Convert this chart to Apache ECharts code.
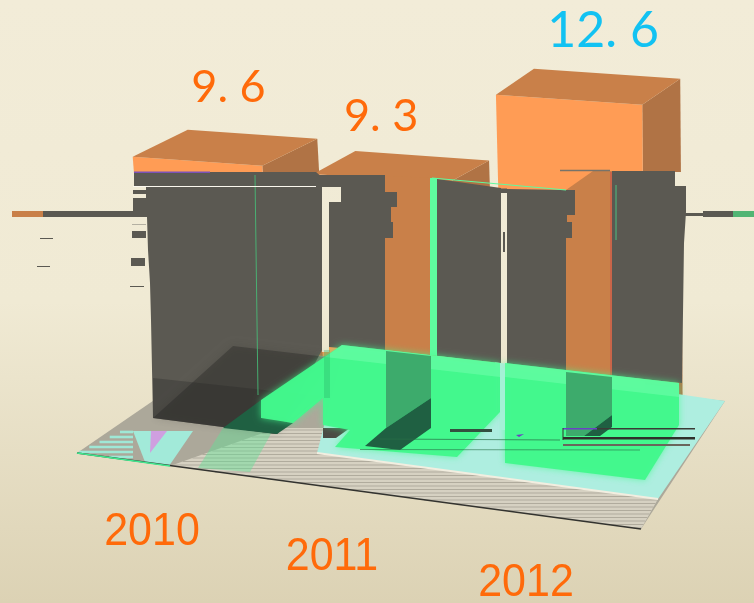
<!DOCTYPE html>
<html><head><meta charset="utf-8">
<style>html,body{margin:0;padding:0;background:#f2ecd8}#c{width:754px;height:603px}</style>
<script src="https://cdn.jsdelivr.net/npm/echarts@6/dist/echarts.min.js"></script>
</head><body><div id="c"></div>
<script>
const categories = ['2010','2011','2012'];
const values = [9.6, 9.3, 12.6];

// layout of the oblique view (not data)
const depthScale=[0.951,1,1.016], xNudge=[0,-4,0], halfW=[62,64,70];
const backOff=[[55,-27],[42,-23],[38,-26]];
const labelNudge=[[31,-74],[1,-62],[34,-69]];
const catPos=[[152,532],[332,557],[526,583]];
const GRAY='#5b5952',FRONT='#ff9c55',TOP='#c98049',SIDE='#b07345',CREAM={type:'linear',x:0,y:0,x2:0,y2:603,global:true,colorStops:[{offset:0,color:'#f2ecd8'},{offset:.5,color:'#f0ead4'},{offset:1,color:'#dcd2b4'}]};

function corners(api){
  const i=api.value(0), v=api.value(1);
  const b=api.coord([i,0]), t=api.coord([i,v]);
  const cx=b[0]+xNudge[i], by=b[1]+0.125*(b[0]-215);
  const h=(b[1]-t[1])*depthScale[i];
  const lean=-(700-cx)*0.00376*v;
  const w=halfW[i], tw=w*1.045;
  const tcx=cx+lean, tcy=by-h;
  const FL=[tcx-tw,tcy-0.07*tw],FR=[tcx+tw,tcy+0.07*tw];
  const BL=[cx-w,by-0.125*w],BR=[cx+w,by+0.125*w];
  return {i,v,cx,by,tcx,tcy,FL,FR,BL,BR,off:backOff[i]};
}
const add=(p,o)=>[p[0]+o[0],p[1]+o[1]];
function renderBar(params,api){
  const c=corners(api);
  const poly=(points,fill)=>({type:'polygon',shape:{points},style:{fill}});
  return {type:'group',children:[
    poly([c.FR,add(c.FR,c.off),add(c.BR,c.off),c.BR],SIDE),
    poly([c.FL,c.FR,c.BR,c.BL],FRONT),
    poly([c.FL,add(c.FL,c.off),add(c.FR,c.off),c.FR],TOP)
  ]};
}
function renderValue(params,api){
  const c=corners(api), n=labelNudge[c.i];
  const isMax=c.v===Math.max(...values);
  return {type:'text',style:{x:c.tcx+n[0],y:c.tcy+n[1],text:String(c.v).replace('.','. '),
    align:'center',verticalAlign:'middle',fill:isMax?'#12c2f2':'#ff6a0a',
    font:(isMax?'50px':'45px')+' Lato'}};
}
function renderCat(params,api){
  const i=api.value(0);
  return {type:'text',x:catPos[i][0],y:catPos[i][1],scaleY:1.09,style:{x:0,y:0,text:categories[i],align:'center',verticalAlign:'middle',
    fill:'#ff6a0a',font:'43px "Liberation Sans"'}};
}

// --- scene pieces (floor, glitches) ---
const els=[];
function P(pts,fill,z,extra){els.push(Object.assign({type:'polygon',z,silent:true,shape:{points:pts},style:Object.assign({fill},extra||{})}));}
function R(x0,y0,x1,y1,fill,z){P([[x0,y0],[x1,y0],[x1,y1],[x0,y1]],fill,z);}
function L(a,b,stroke,w,z){els.push({type:'line',z,silent:true,shape:{x1:a[0],y1:a[1],x2:b[0],y2:b[1]},style:{stroke,lineWidth:w}});}
function hatch(poly,y0,y1,step,color,z,w){
  for(let y=y0;y<=y1;y+=step){
    const xs=[];
    poly.forEach((p,k)=>{const q=poly[(k+1)%poly.length];
      if((p[1]<=y&&q[1]>y)||(q[1]<=y&&p[1]>y)) xs.push(p[0]+(y-p[1])*(q[0]-p[0])/(q[1]-p[1]));});
    if(xs.length>=2) L([Math.min(...xs),y],[Math.max(...xs),y],color,w||1.2,z);
  }
}
const F=2.5;
R(0,0,754,603,CREAM,0);
// floor (sits over the feet of the boxes)
P([[77,453],[233,346],[725,401],[641,529]],'#aca89a',F);
const strip=[[170,466],[641,529],[658,499],[317,453],[350,428],[277,428]];
P(strip,'#d6d1c2',F);
hatch(strip,430,528,3.5,'#b0ab9d',F,1.1);
// left mint patch
const mintL=[[77,453],[122,431],[133,431],[133,460]];
hatch(mintL,432,458,5,'#9fe8d6',F,2.6);
P([[133,431],[193,431],[169,466],[145,462]],'#a2ead9',F);
P([[151,431],[167,431],[150,453]],'#cf9fe0',F);
P([[223,428],[273,430],[250,472],[198,468]],'rgba(100,225,150,.45)',F);
L([77,453],[641,529],'#33332f',1.6,F);
L([77,453],[170,466],'#3fe98f',1.4,F);
// mint floor
P([[317,453],[658,499],[725,401],[345,345]],'#aeeee0',F);
L([317,453],[658,499],'#f2eee0',2,F);

// glitch layer above the bars (z 3)
R(100,173,155,425,CREAM,F-.4);
R(322,187,329,352,CREAM,3); R(329,187,341,202,CREAM,3);
R(501,193,507,364,CREAM,3);
R(675,172,690,186,CREAM,3); R(684,186,700,395,CREAM,3);
// darker orange columns
P([[385,176],[437,178],[437,356],[385,350]],TOP,3);
P([[566,190],[593,171],[612,171],[612,376],[566,371]],TOP,3);
// gray masses
P([[134,172],[316,172],[323,178],[323,186],[134,186]],GRAY,3);
P([[146,187],[322,187],[322,350],[277,434],[153,418],[151,320],[150,283],[148,250],[147,217],[146,217]],GRAY,3);
P([[233,346],[335,358],[277,434],[153,418]],'rgba(38,38,35,.38)',3,{shadowBlur:8,shadowColor:'rgba(50,50,45,.45)'});
P([[153,378],[320,396],[277,434],[153,418]],'rgba(38,38,35,.3)',3);
R(133,190,146,194,GRAY,3); R(133,198,146,217,GRAY,3); R(43,211,146,217,GRAY,3);
R(12,211,43,217,TOP,3);
R(132,224,146,225,'#b4b0a2',3); R(132,231,146,238,GRAY,3); R(131,258,145,266,GRAY,3); R(130,286,144,287,GRAY,3);
R(40,238,53,239,GRAY,3); R(37,266,50,267,GRAY,3);
R(134,171.5,210,173,'#7a52b8',3);
L([255,175],[258,395],'rgba(70,190,120,.85)',1,3);
R(133,186,340,187,'#fbf8ee',3);
// second gray mass
P([[316,175],[382,175],[385,175],[385,192],[397,192],[397,207],[391,207],[391,222],[393,222],[393,238],[385,238],[385,352],[329,347],[329,202],[341,202],[341,187],[316,187]],GRAY,3);
// third + fourth
P([[430,178],[437,178],[437,356],[430,355]],'#5ffb9f',3);
P([[437,179],[501,188],[501,363],[437,356]],GRAY,3);
R(501,188.5,507,193,GRAY,3);
P([[507,189],[566,190],[575,190],[575,215],[567,215],[567,222],[572,222],[572,238],[566,238],[566,371],[507,364]],GRAY,3);
R(503,232,505,252,GRAY,3);
L([432,178],[566,190],'#5ffb9f',1,3);
// fifth
P([[612,171],[675,171],[675,186],[686,186],[686,212],[684,243],[682,383],[612,376]],GRAY,3);
R(685,213,703,216,GRAY,3); R(703,211,733,217,GRAY,3); R(733,211,754,217,'#52b574',3);
L([611,172],[611,376],'#c94a4a',1,3);
L([616,185],[616,240],'#4fbf80',1,3);
L([560,170.5],[610,170.5],'#77736a',1.4,3);

// green layers
const G='rgba(66,248,140,.97)', glow={shadowBlur:7,shadowColor:'rgba(66,248,140,.7)'};
P([[223,428],[261,400],[261,418],[293,423],[277,434]],'#1f6042',4);
P([[323,428],[350,428],[336,438],[323,438]],'#4a4a44',4);
P([[342,345],[500,363],[500,412],[457,457],[335,447],[350,430],[323,425],[323,398],[293,423],[261,418],[261,400]],G,4,glow);
P([[505,363],[679,383],[679,425],[645,480],[505,463]],G,4,glow);
P([[342,345],[500,363],[500,377],[325,357]],'rgba(110,253,170,.6)',4);
P([[505,363],[679,383],[679,397],[505,377]],'rgba(110,253,170,.6)',4);
P([[500,363],[505,363.5],[505,430],[500,430]],'rgba(165,240,215,.95)',4);
R(324,350,330,398,'rgba(40,170,100,.3)',4);
// columns seen through the green
P([[386,351],[431,356],[431,398],[386,428]],'#3dab6c',4);
P([[431,398],[431,428],[400,450],[365,446],[386,428]],'#1f6042',4);
P([[566,372],[612,377],[612,415],[584,436],[566,436]],'#3dab6c',4);
P([[612,415],[612,427],[600,436],[584,436]],'#1f6042',4);
// streaks
R(563,428,597,429.5,'#6b42c4',4); R(597,428,695,429.5,'#3b3b36',4); R(563,437,695,439.5,'#2f2f2b',4); R(563,444,690,446,'#6a665c',4);
L([563,428],[563,440],'#33332f',1,4);
R(450,429,492,432,'#33503f',4);
L([380,439],[560,440],'rgba(40,110,70,.7)',1,4);
L([360,449.5],[640,450],'rgba(40,110,70,.6)',1,4);
P([[516,435],[524,434],[519,437]],'#6b42c4',4);

const seriesData=categories.map((c,i)=>[i,values[i]]);
const chart=echarts.init(document.getElementById('c'),null,{renderer:'canvas'});
chart.setOption({
  animation:false,
  grid:{left:125,width:540,top:0,height:426},
  xAxis:{type:'category',data:categories,show:false},
  yAxis:{type:'value',min:0,max:426/29,show:false},
  graphic:{elements:els},
  series:[
    {type:'custom',z:2,data:seriesData,renderItem:renderBar,silent:true},
    {type:'custom',z:5,data:seriesData,renderItem:renderValue,silent:true},
    {type:'custom',z:5,data:seriesData,renderItem:renderCat,silent:true}
  ]
});
</script></body></html>
